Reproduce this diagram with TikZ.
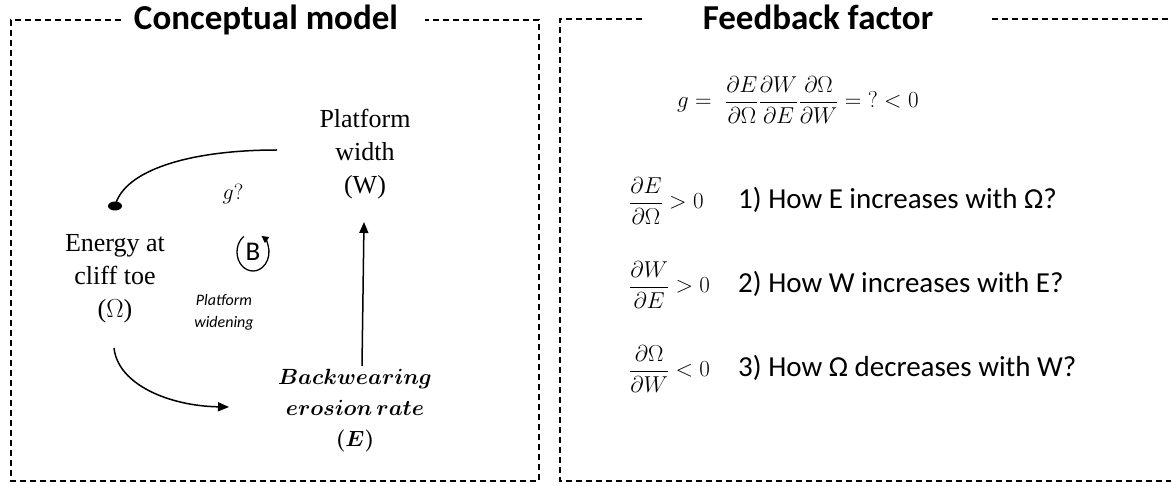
\RequirePackage{fix-cm}
\documentclass[tikz,border=0pt]{standalone}
\usepackage{fontspec}
\usepackage{amsmath}
\newfontfamily\carl{Carlito}
\newfontfamily\garm{Liberation Serif}
\usetikzlibrary{arrows.meta}
\tikzset{
  frame/.style={line width=1.3pt, dash pattern=on 6pt off 4pt},
  title/.style={font={\carl\bfseries\fontsize{35}{40}\selectfont}, inner sep=0pt, anchor=base},
  varlabel/.style={font={\garm\fontsize{26}{33}\selectfont}, align=center, inner sep=0pt},
  link/.style={line width=1.5pt, -{Triangle[length=11pt,width=9pt]}},
  question/.style={font={\carl\fontsize{29}{34}\selectfont}, inner sep=0pt, anchor=base west},
  mathrow/.style={font={\fontsize{23}{27}\selectfont}, inner sep=0pt, anchor=base west},
}
\begin{document}
\begin{tikzpicture}[x=1pt,y=-1pt]
\useasboundingbox (0,0) rectangle (1171,486);
% frames
\draw[frame] (121,20) -- (11,20) -- (11,481) -- (539,481) -- (539,20) -- (425,20);
\draw[frame] (642,19) -- (560,19) -- (560,481) -- (1185,481);
\draw[frame] (992,19) -- (1185,19);
\node[title] (t1) at (266,30) {Conceptual model};
\node[title] (t2) at (818,30) {Feedback factor};
% left panel
\node[varlabel] (W) at (365,154) {Platform\\width\\(W)};
\node[varlabel] (O) at (115,279) {Energy at\\cliff toe\\($\Omega$)};
\node[align=center, inner sep=0pt, font={\fontsize{22}{31}\selectfont\boldmath}] (E) at (355,411)
  {$Backwearing$\\$erosion\,rate$\\$(E)$};
\node[inner sep=0pt, anchor=base, font={\fontsize{22}{26}\selectfont}] (g) at (233,200) {$g$?};
\node[inner sep=0pt, font={\carl\fontsize{27}{30}\selectfont}] (B) at (253,252) {B};
\node[align=center, inner sep=0pt, font={\carl\itshape\fontsize{16}{22}\selectfont}] (pw) at (224,312) {Platform\\widening};
\draw[line width=1.3pt, -{Triangle[length=7pt,width=7pt]}] ([shift={(-125:16 and 19)}]B.center) arc[start angle=-125, end angle=-418, x radius=16, y radius=19];
% connectors
\coordinate (wout) at (277,150);
\coordinate (dot) at (115,206);
\draw[line width=1.5pt] (wout) .. controls (190,150) and (124,170) .. (dot);
\fill (dot) ellipse [x radius=7, y radius=4.5];
\coordinate (oout) at (114,348);
\coordinate (ein) at (229,407);
\draw[link] (oout) .. controls (118,385) and (170,406) .. (ein);
\coordinate (eout) at (362,366);
\coordinate (win) at (364,222);
\draw[link] (eout) -- (win);
% right panel
\node[mathrow] (geq) at (677,108) {$\displaystyle g = \ \frac{\partial E}{\partial\Omega}\frac{\partial W}{\partial E}\frac{\partial \Omega}{\partial W} = {?} < 0$};
\node[mathrow] (r1) at (629,209) {$\displaystyle \frac{\partial E}{\partial\Omega} > 0$};
\node[mathrow] (r2) at (629,293) {$\displaystyle \frac{\partial W}{\partial E} > 0$};
\node[mathrow] (r3) at (629,377) {$\displaystyle \frac{\partial \Omega}{\partial W} < 0$};
\node[question] (q1) at (738,209) {1) How E increases with Ω?};
\node[question] (q2) at (738,293) {2) How W increases with E?};
\node[question] (q3) at (738,377) {3) How Ω decreases with W?};
\end{tikzpicture}
\end{document}
